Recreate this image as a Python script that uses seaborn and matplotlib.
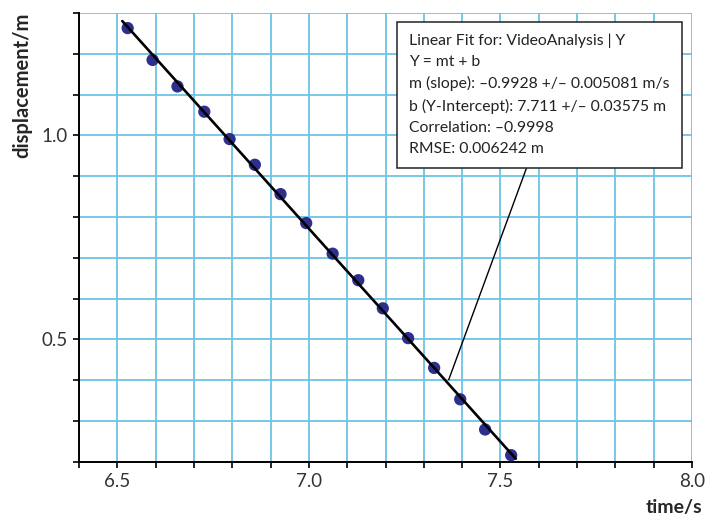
import numpy as np
import pandas as pd
import matplotlib
matplotlib.use("Agg")
import matplotlib.pyplot as plt
from matplotlib.ticker import MultipleLocator, FuncFormatter
import seaborn as sns

# Data (15 frames per second)
time_s = [6.527, 6.592, 6.657, 6.727, 6.793, 6.859, 6.926, 6.993,
          7.062, 7.129, 7.193, 7.259, 7.327, 7.395, 7.460, 7.528]
displacement_m = [1.263, 1.185, 1.120, 1.058, 0.991, 0.928, 0.856, 0.785,
                  0.710, 0.645, 0.576, 0.503, 0.430, 0.353, 0.279, 0.216]

fit_lines = [
    "Linear Fit for: VideoAnalysis | Y",
    "Y = mt + b",
    "m (slope): \u20130.9928 +/\u2013 0.005081 m/s",
    "b (Y-Intercept): 7.711 +/\u2013 0.03575 m",
    "Correlation: \u20130.9998",
    "RMSE: 0.006242 m",
]

df = pd.DataFrame({"time": time_s, "disp": displacement_m})

sns.set_theme(style="ticks")
plt.rcParams["font.family"] = ["Lato", "DejaVu Sans"]

grid_col = "#6cc4e6"

fig = plt.figure(figsize=(7.08, 5.16), dpi=100)
ax = fig.add_axes([0.1116, 0.1052, 0.8658, 0.8696])

# fit line from the data
m, b = np.polyfit(df["time"], df["disp"], 1)
t_fit = np.array([df["time"].min() - 0.014, df["time"].max() + 0.012])
fit_df = pd.DataFrame({"time": t_fit, "disp": m * t_fit + b})

sns.scatterplot(data=df, x="time", y="disp", ax=ax, color="#2e2e8c",
                s=78, edgecolor="none", zorder=3)
sns.lineplot(data=fit_df, x="time", y="disp", ax=ax, color="black",
             linewidth=1.9, zorder=4)

ax.set_xlim(6.4, 8.0)
ax.set_ylim(0.2, 1.3)

ax.xaxis.set_major_locator(MultipleLocator(0.1))
ax.yaxis.set_major_locator(MultipleLocator(0.1))

def xfmt(v, pos):
    r = round(v * 10)
    return f"{v:.1f}" if r % 5 == 0 and r >= 65 else ""

def yfmt(v, pos):
    r = round(v * 10)
    return f"{v:.1f}" if r in (5, 10) else ""

ax.xaxis.set_major_formatter(FuncFormatter(xfmt))
ax.yaxis.set_major_formatter(FuncFormatter(yfmt))

ax.grid(True, color=grid_col, linewidth=1.3)
ax.set_axisbelow(True)
ax.tick_params(axis="both", direction="out", length=4, width=1.2,
               color="black", labelsize=13.5, labelcolor="#333333", pad=4)

for side in ["top", "right"]:
    ax.spines[side].set_visible(False)
for side in ["left", "bottom"]:
    ax.spines[side].set_color("black")
    ax.spines[side].set_linewidth(1.4)

ax.set_xlabel("time/s", fontsize=14, fontweight="bold", loc="right")
ax.xaxis.set_label_coords(1.016, -0.082)
ax.set_ylabel("displacement/m", fontsize=14.5, fontweight="bold", loc="top")
ax.yaxis.set_label_coords(-0.076, 1.0)

ax.annotate("\n".join(fit_lines), xy=(7.365, 0.401), xycoords="data",
            xytext=(7.262, 1.25), textcoords="data", ha="left", va="top",
            fontsize=11.3, color="#222222", linespacing=1.63,
            bbox=dict(boxstyle="square,pad=0.75", fc="white", ec="#222222", lw=1.1),
            arrowprops=dict(arrowstyle="-", color="black", lw=1.0,
                            relpos=(0.467, 0.0), shrinkA=0, shrinkB=0),
            zorder=5)

fig.savefig("out.png", dpi=100)
